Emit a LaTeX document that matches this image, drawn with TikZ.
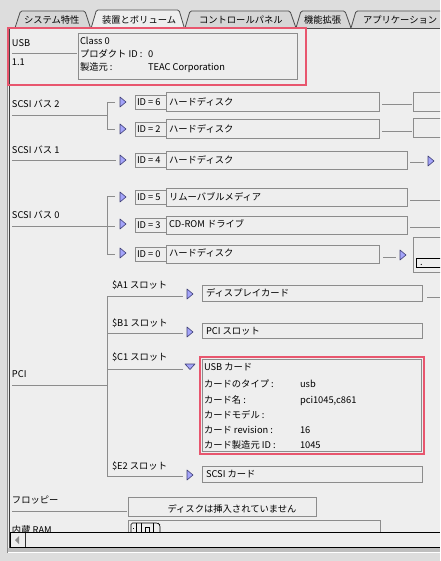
\documentclass[tikz,border=0pt]{standalone}
\usepackage{fontspec}
\setmainfont{Noto Sans CJK JP}
\usetikzlibrary{calc}
\definecolor{panel}{HTML}{EEEEEE}
\definecolor{outerg}{HTML}{DDDDDD}
\definecolor{tabfill}{HTML}{D6D6D6}
\definecolor{boxline}{HTML}{8C8C8C}
\definecolor{hl}{HTML}{E8566E}
\definecolor{trifill}{HTML}{A4A4FA}
\definecolor{tridraw}{HTML}{404078}
\newcommand\gbx[5]{\node[gbox, minimum width=#4pt, minimum height=#5pt] (#1) at (#2,#3) {};}
\newcommand\rtri[3]{\coordinate (#1) at (#2,#3); \filldraw[trist] ($(#1)+(-3,-5)$) -- ($(#1)+(3,0)$) -- ($(#1)+(-3,5)$) -- cycle;}
\begin{document}
\begin{tikzpicture}[x=1pt,y=-1pt,
  every node/.style={inner sep=0pt, outer sep=0pt},
  txt/.style={anchor=west, font=\fontsize{9.3}{10}\selectfont, text height=6.8pt, text depth=1.6pt, yshift=-1pt},
  gbox/.style={draw=boxline, line width=0.9pt, fill=panel, anchor=north west},
  link/.style={draw=boxline, line width=0.9pt},
  trist/.style={fill=trifill, draw=tridraw, line width=0.6pt, line join=round},
  hlbox/.style={draw=hl, line width=2.4pt, anchor=north west},
  tabst/.style={draw=black!70, line width=0.8pt, rounded corners=1.5pt}
]
\clip (0,0) rectangle (440,561);
\fill[outerg] (0,0) rectangle (440,561);
\fill[panel] (8,28) rectangle (440,552);
% tabs
\filldraw[tabst, fill=tabfill] (15,28) -- (20.5,11) -- (85,11) -- (90.5,28);
\filldraw[tabst, fill=tabfill] (185,28) -- (190,11) -- (290,11) -- (296,28);
\filldraw[tabst, fill=tabfill] (296,28) -- (301,11) -- (345,11) -- (351,28);
\filldraw[tabst, fill=tabfill] (351,28) -- (356,11) -- (450,11) -- (450,28);
\filldraw[tabst, fill=panel] (91,28.5) -- (96.5,10) -- (179,10) -- (184.5,28.5);
\node[txt] (tab1) at (24,20) {システム特性};
\node[txt] (tab2) at (102,20) {装置とボリューム};
\node[txt] (tab3) at (199,20) {コントロールパネル};
\node[txt] (tab4) at (304,20) {機能拡張};
\node[txt] (tab5) at (363,20) {アプリケーション};
% panel borders
\draw[black!70, line width=0.9pt] (306,28.5) -- (440,28.5);
\draw[boxline, line width=0.8pt] (7,28) -- (7,553);
\draw[black!75, line width=1pt] (9.5,28) -- (9.5,553);
% USB
\node[txt] (usb) at (12,43) {USB};
\coordinate (usbl1) at (12,53); \coordinate (usbl2) at (77,53);
\draw[link] (usbl1) -- (usbl2);
\node[txt] (usbv) at (12,62) {1.1};
\gbx{usbinfo}{78}{33}{219}{46}
\node[txt] at (80,41) {Class 0};
\node[txt] at (80,54) {プロダクト ID :};
\node[txt] at (148,54) {0};
\node[txt] at (80,67) {製造元 :};
\node[txt] at (148,67) {TEAC Corporation};
\node[hlbox, minimum width=298pt, minimum height=57pt] (hl1) at (8,28) {};
% SCSI bus 2
\node[txt] (bus2) at (12,104) {SCSI バス 2};
\draw[link] (12,115) -- (107,115);
\draw[link] (115,102) -| (107,129) -- (115,129);
\rtri{t6}{123}{102}
\rtri{t2}{123}{129}
\gbx{id6}{135}{95}{31}{14} \node[txt] at (137,102) {ID = 6};
\gbx{hd6}{166}{92}{213}{19} \node[txt] at (169,101.5) {ハードディスク};
\draw[link] (382,104) -- (412,104);
\gbx{r6}{413}{92}{40}{19}
\gbx{id2}{135}{122}{31}{14} \node[txt] at (137,129) {ID = 2};
\gbx{hd2}{166}{119}{213}{19} \node[txt] at (169,128.5) {ハードディスク};
\draw[link] (382,131) -- (412,131);
\gbx{r2}{413}{118}{40}{19}
% SCSI bus 1
\node[txt] (bus1) at (12,150) {SCSI バス 1};
\draw[link] (12,160) -- (116,160);
\rtri{t4}{123}{160}
\gbx{id4}{135}{153}{31}{14} \node[txt] at (137,160) {ID = 4};
\gbx{hd4}{166}{151}{241}{18} \node[txt] at (169,160) {ハードディスク};
\draw[link] (410,162) -- (424,162);
\rtri{t4r}{431}{161}
% SCSI bus 0
\node[txt] (bus0) at (12,215) {SCSI バス 0};
\draw[link] (12,226.5) -- (107,226.5);
\draw[link] (115,196) -| (107,254) -- (115,254);
\draw[link] (107,226.5) -- (115,226.5);
\rtri{t5}{123}{197}
\rtri{t3}{123}{224}
\rtri{t0}{123}{253}
\gbx{id5}{135}{190}{31}{14} \node[txt] at (137,197) {ID = 5};
\gbx{hd5}{166}{188}{241}{18} \node[txt] at (169,197) {リムーバブルメディア};
\draw[link] (410,200) -- (440,200);
\gbx{id3}{135}{218}{31}{14} \node[txt] at (137,225) {ID = 3};
\gbx{hd3}{166}{216}{241}{18} \node[txt] at (169,224) {CD-ROM ドライブ};
\draw[link] (410,227) -- (440,227);
\gbx{id0}{135}{247}{31}{14} \node[txt] at (137,254) {ID = 0};
\gbx{hd0}{166}{245}{213}{18} \node[txt] at (169,253) {ハードディスク};
\draw[link] (383,257) -- (396,257);
\rtri{t0r}{403}{255}
\gbx{r0}{413}{237}{40}{35}
\draw[black, line width=0.9pt, fill=panel] (416,258) rectangle (450,267);
\node[txt] at (420,262) {.};
% PCI
\node[txt] (pci) at (12,374) {PCI};
\draw[link] (12,385) -- (107,385);
\draw[link] (107,296) -- (107,476);
\node[txt] (sa1) at (112,285) {\$A1 スロット};
\draw[link] (107,296) -- (183,296);
\rtri{ta1}{190}{294}
\gbx{ba1}{202}{285}{220}{16} \node[txt] at (206,293) {ディスプレイカード};
\draw[link] (427,297) -- (440,297);
\node[txt] (sb1) at (112,323) {\$B1 スロット};
\draw[link] (107,333) -- (183,333);
\rtri{tb1}{190}{332}
\gbx{bb1}{202}{323}{220}{15} \node[txt] at (206,331) {PCI スロット};
\node[txt] (sc1) at (112,357) {\$C1 スロット};
\draw[link] (107,369) -- (183,369);
\filldraw[trist] (185,364) -- (195,364) -- (190,369.5) -- cycle;
\node[hlbox, minimum width=224pt, minimum height=97pt, fill=panel] (hl2) at (200,357) {};
\draw[boxline, line width=0.7pt] (202.5,359.5) rectangle (421.5,451.5);
\node[txt] at (204,367) {USB カード};
\node[txt] at (204,384) {カードのタイプ :}; \node[txt] at (300,384) {usb};
\node[txt] at (204,400) {カード名 :}; \node[txt] at (300,400) {pci1045,c861};
\node[txt] at (204,415) {カードモデル :};
\node[txt] at (204,430) {カード revision :}; \node[txt] at (300,430) {16};
\node[txt] at (204,445) {カード製造元 ID :}; \node[txt] at (300,445) {1045};
\node[txt] (se2) at (112,466) {\$E2 スロット};
\draw[link] (107,476) -- (183,476);
\rtri{te2}{190}{475}
\gbx{be2}{202}{466}{220}{16} \node[txt] at (206,474) {SCSI カード};
% floppy
\node[txt] (fl) at (12,500) {フロッピー};
\draw[link] (12,511) -- (127,511);
\gbx{flb}{128}{497}{188}{19}
\node[txt, anchor=center] at (232,508.5) {ディスクは挿入されていません};
% RAM
\node[txt] (ram) at (12,530) {内蔵 RAM};
\gbx{ramb}{128}{520}{252}{20}
\draw[black, line width=0.6pt, rounded corners=1.5pt] (131,533) -- (131,523) -- (158,523) -- (160,525) -- (160,533);
\draw[black, line width=0.6pt] (136,523) -- (136,533) (141,523) -- (141,533) (153,523) -- (153,533);
\draw[black, line width=0.5pt] (145,527) rectangle (149,533) (133,528) -- (134,528);
% scrollbar
\fill[panel] (10,532) rectangle (440,547.5);
\draw[black, line width=0.9pt] (10,532.5) -- (440,532.5);
\draw[black, line width=0.9pt] (10,547.5) -- (440,547.5);
\draw[black, line width=0.9pt] (10.5,532) -- (10.5,548);
\draw[black!80, line width=0.6pt] (25,533) -- (25,547);
\fill[black!45] (15,540) -- (19,536) -- (19,544) -- cycle;
\fill[black!25] (8,548) rectangle (440,551.5);
\draw[white, line width=0.6pt] (8,552) -- (440,552);
\end{tikzpicture}
\end{document}
